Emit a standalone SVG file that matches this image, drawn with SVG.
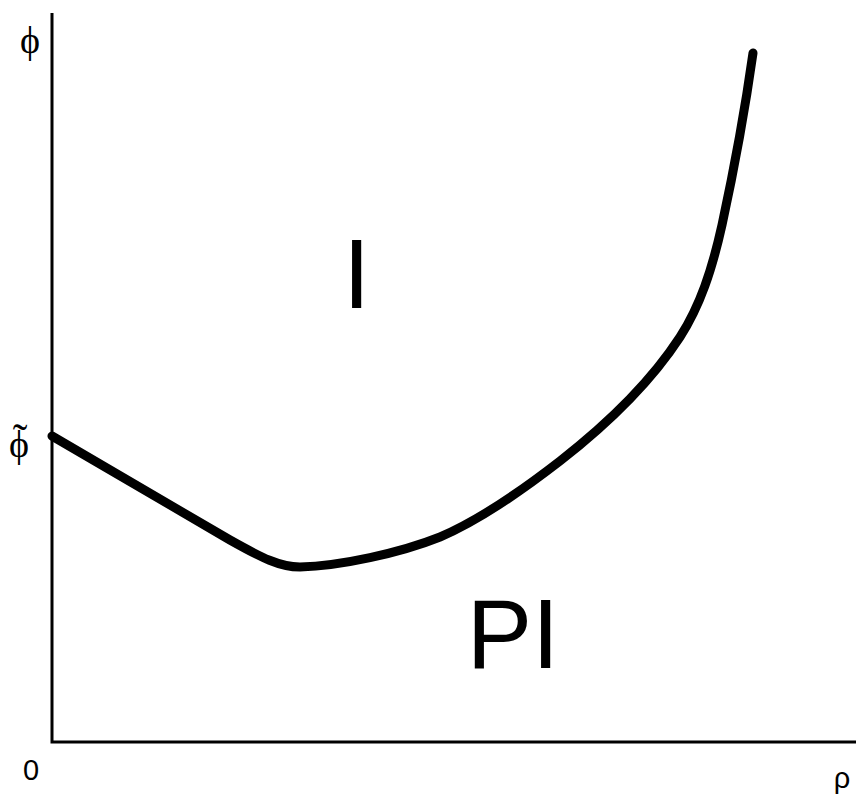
<svg xmlns="http://www.w3.org/2000/svg" width="856" height="804" viewBox="0 0 856 804">
<style>
.axis{stroke:#000;stroke-width:3;fill:none}
.curve{stroke:#000;stroke-width:9;fill:none;stroke-linecap:round;stroke-linejoin:round}
.sym{font-family:"Liberation Serif","DejaVu Serif",serif;font-size:38px;fill:#000}
.lab{font-family:"Liberation Sans",Arial,sans-serif;font-size:29px;fill:#000}
.big{font-family:"Liberation Sans",Arial,sans-serif;font-size:98px;fill:#000;text-anchor:middle}
</style>
<rect width="856" height="804" fill="#fff"/>
<g id="axes">
<path class="axis" d="M52,13 L52,742 L856,742"/>
</g>
<g id="connectors">
<path class="curve" d="M52,436 L230,540 C262,558 280,567 300,567 C340,566 400,553 440,537 C480,520 520,492 560,461 C610,422 652,380 680,337 C700,306 712,270 722,225 C735,165 745,110 753,53"/>
</g>
<g id="labels">
<text class="sym" x="30" y="53" text-anchor="middle">ϕ</text>
<text class="sym" x="19" y="457" text-anchor="middle">ϕ<tspan x="20" y="454" font-size="44">˜</tspan></text>
<text class="lab" x="31" y="780" text-anchor="middle">0</text>
<text class="lab" x="842" y="788" text-anchor="middle">ρ</text>
</g>
<g id="region-I"><text class="big" x="356.5" y="308">I</text></g>
<g id="region-PI"><text class="big" x="513" y="668">PI</text></g>
</svg>
